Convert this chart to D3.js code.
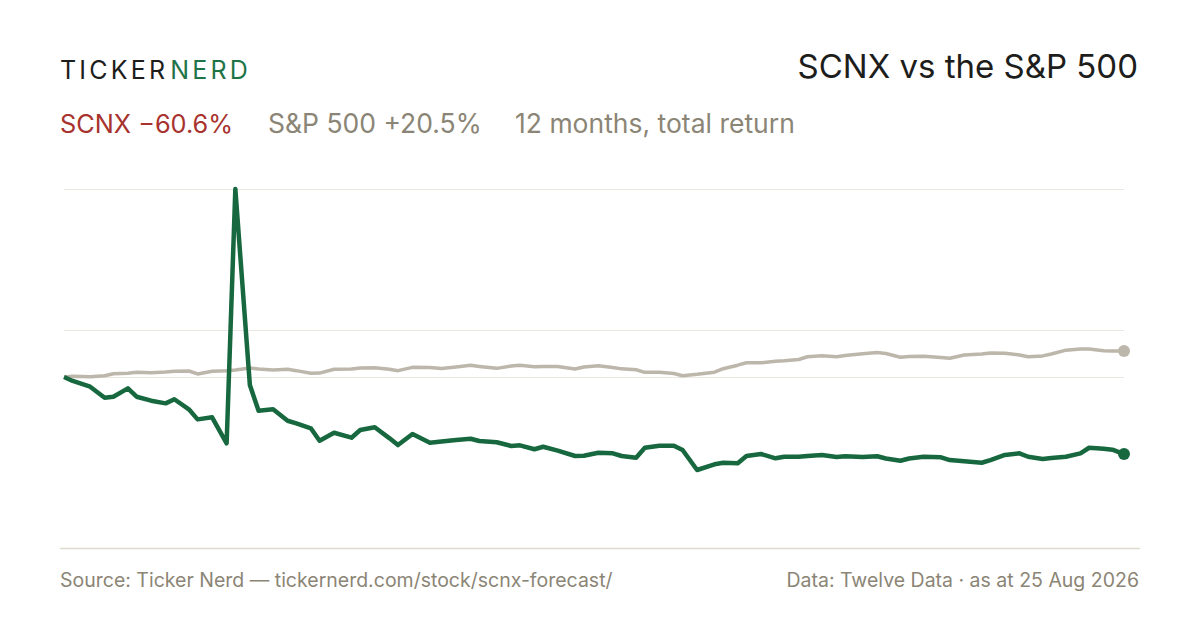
<!DOCTYPE html>
<html lang="en">
<head>
    <meta charset="UTF-8">
    <title>SCNX vs the S&amp;P 500</title>
    <script src="https://d3js.org/d3.v7.min.js"></script>
    <style>
        html, body { margin: 0; padding: 0; background: #fff; }
        body { font-family: Inter, "Liberation Sans", sans-serif; }
    </style>
</head>
<body>
    <div id="chart"></div>
    <script>
        // every third trading day, 12 months to 25 Aug 2026
        const dates = [
            "2025-08-25", "2025-08-28", "2025-09-03", "2025-09-08", "2025-09-11", "2025-09-16", "2025-09-19",
            "2025-09-24", "2025-09-29", "2025-10-02", "2025-10-07", "2025-10-10", "2025-10-15", "2025-10-20",
            "2025-10-23", "2025-10-28", "2025-10-31", "2025-11-05", "2025-11-10", "2025-11-13", "2025-11-18",
            "2025-11-21", "2025-11-26", "2025-12-02", "2025-12-05", "2025-12-10", "2025-12-15", "2025-12-18",
            "2025-12-23", "2025-12-29", "2026-01-02", "2026-01-07", "2026-01-12", "2026-01-15", "2026-01-21",
            "2026-01-26", "2026-01-29", "2026-02-03", "2026-02-06", "2026-02-11", "2026-02-17", "2026-02-20",
            "2026-02-25", "2026-03-02", "2026-03-05", "2026-03-10", "2026-03-13", "2026-03-18", "2026-03-23",
            "2026-03-26", "2026-03-31", "2026-04-06", "2026-04-09", "2026-04-14", "2026-04-17", "2026-04-22",
            "2026-04-27", "2026-04-30", "2026-05-05", "2026-05-08", "2026-05-13", "2026-05-18", "2026-05-21",
            "2026-05-27", "2026-06-01", "2026-06-04", "2026-06-09", "2026-06-12", "2026-06-17", "2026-06-23",
            "2026-06-26", "2026-07-01", "2026-07-07", "2026-07-10", "2026-07-15", "2026-07-20", "2026-07-23",
            "2026-07-28", "2026-07-31", "2026-08-05", "2026-08-10", "2026-08-13", "2026-08-18", "2026-08-21",
            "2026-08-25"
        ];

        // total return, % since start
        const scnx = [
            0, -3.1, -7.6, -16.3, -15.5, -8.9, -15.5, -18.6, -20.7, -17.5,
            -25.4, -33.3, -31.7, -52.1, 147.8, -6.3, -26.5, -25.4, -34.4, -36.4,
            -40.3, -50.1, -43.8, -47.7, -41.7, -39.5, -48.0, -53.5, -44.8, -51.7,
            -50.7, -49.5, -48.5, -50.3, -51.3, -54.2, -53.7, -56.8, -54.8, -57.9,
            -62.1, -61.9, -59.5, -60.0, -62.1, -63.4, -55.6, -54.0, -54.0, -57.4,
            -73.1, -68.6, -67.4, -67.8, -62.1, -60.5, -63.9, -62.7, -62.7, -62.1,
            -61.3, -62.9, -62.3, -62.9, -62.3, -64.1, -65.8, -64.1, -62.7, -63.1,
            -65.3, -66.3, -67.4, -65.3, -61.3, -60.0, -62.7, -64.5, -63.7, -62.7,
            -60.0, -55.6, -56.4, -57.1, -60.6
        ];

        const spx = [
            0, 0.6, 0.2, 1.0, 2.6, 2.9, 3.7, 3.4, 3.9, 4.6,
            4.7, 2.4, 4.5, 5.0, 5.5, 7.1, 6.3, 5.5, 6.1, 5.0,
            2.9, 3.1, 6.1, 6.3, 7.1, 7.3, 6.1, 5.0, 7.6, 7.5,
            6.7, 7.9, 9.2, 8.3, 6.8, 8.6, 9.2, 8.1, 8.3, 8.3,
            6.3, 7.9, 8.8, 7.4, 6.4, 5.7, 3.7, 3.7, 2.8, 1.0,
            2.1, 3.8, 6.5, 9.3, 11.2, 11.2, 12.3, 12.7, 13.8, 15.9,
            16.7, 16.0, 16.9, 18.3, 19.3, 18.5, 15.5, 16.2, 16.3, 15.3,
            14.7, 17.3, 18.1, 18.9, 18.7, 17.3, 16.0, 16.6, 18.1, 21.1,
            22.0, 22.1, 20.7, 20.4, 20.5
        ];

        const ticker = "SCNX";
        const benchmark = "S&P 500";
        const title = "SCNX vs the S&P 500";
        const periodLabel = "12 months, total return";
        const sourceText = "Source: Ticker Nerd \u2014 tickernerd.com/stock/scnx-forecast/";
        const dataText = "Data: Twelve Data \u00b7 as at 25 Aug 2026";

        const width = 1200, height = 630;
        const green = "#17683f", grey = "#bdb6ab", muted = "#8b8576", red = "#a8322d";

        const parse = d3.utcParse("%Y-%m-%d");
        const days = dates.map(parse);

        const svg = d3.select("#chart").append("svg")
            .attr("width", width)
            .attr("height", height)
            .attr("viewBox", [0, 0, width, height])
            .style("font-family", "Inter, 'Liberation Sans', sans-serif");

        const x = d3.scaleUtc()
            .domain(d3.extent(days))
            .range([64, 1124]);

        const all = scnx.concat(spx);
        const [lo, hi] = d3.extent(all);
        const y = d3.scaleLinear()
            .domain([lo, hi])
            .range([470, 189]);

        // header
        const logo = svg.append("text")
            .attr("x", 60)
            .attr("y", 79)
            .attr("font-size", 25)
            .attr("letter-spacing", 3.2);
        logo.append("tspan").attr("fill", "#1d1d1b").text("TICKER");
        logo.append("tspan").attr("fill", "#1f7447").attr("dx", 2).text("NERD");

        svg.append("text")
            .attr("x", 1138)
            .attr("y", 78)
            .attr("text-anchor", "end")
            .attr("font-size", 33)
            .attr("fill", "#1d1d1b")
            .text(title);

        const fmt = d3.format("+.1f");
        const pct = v => fmt(v).replace("-", "\u2212") + "%";
        const subtitle = [
            { text: `${ticker} ${pct(scnx[scnx.length - 1])}`, color: red, x: 60, size: 25.3 },
            { text: `${benchmark} ${pct(spx[spx.length - 1])}`, color: muted, x: 268, size: 26.5 },
            { text: periodLabel, color: muted, x: 515, size: 26.5 }
        ];
        svg.append("g")
            .selectAll("text")
            .data(subtitle)
            .join("text")
            .attr("x", d => d.x)
            .attr("y", 133)
            .attr("font-size", d => d.size)
            .attr("fill", d => d.color)
            .text(d => d.text);

        // gridlines: top, middle, zero
        svg.append("g")
            .attr("stroke", "#ebe8e1")
            .attr("stroke-width", 1)
            .selectAll("line")
            .data([hi, (hi + lo) / 2, 0])
            .join("line")
            .attr("x1", x.range()[0])
            .attr("x2", x.range()[1])
            .attr("y1", d => Math.round(y(d)) + 0.5)
            .attr("y2", d => Math.round(y(d)) + 0.5);

        const line = d3.line()
            .x((d, i) => x(days[i]))
            .y(d => y(d));

        svg.append("path")
            .datum(spx)
            .attr("fill", "none")
            .attr("stroke", grey)
            .attr("stroke-width", 3.5)
            .attr("stroke-linejoin", "round")
            .attr("d", line);

        svg.append("path")
            .datum(scnx)
            .attr("fill", "none")
            .attr("stroke", green)
            .attr("stroke-width", 4.5)
            .attr("stroke-linejoin", "round")
            .attr("d", line);

        const last = days.length - 1;
        svg.append("circle")
            .attr("cx", x(days[last]))
            .attr("cy", y(spx[last]))
            .attr("r", 6)
            .attr("fill", grey);
        svg.append("circle")
            .attr("cx", x(days[last]))
            .attr("cy", y(scnx[last]))
            .attr("r", 6)
            .attr("fill", green);

        // footer
        svg.append("line")
            .attr("x1", 60)
            .attr("x2", 1140)
            .attr("y1", 548.5)
            .attr("y2", 548.5)
            .attr("stroke", "#dedad0")
            .attr("stroke-width", 1.5);

        svg.append("text")
            .attr("x", 60)
            .attr("y", 587)
            .attr("font-size", 19.5)
            .attr("fill", muted)
            .text(sourceText);

        svg.append("text")
            .attr("x", 1139)
            .attr("y", 587)
            .attr("text-anchor", "end")
            .attr("font-size", 19.5)
            .attr("fill", muted)
            .text(dataText);
    </script>
</body>
</html>
